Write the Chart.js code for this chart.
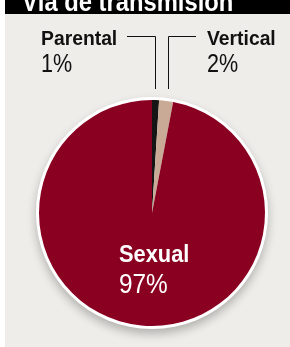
<!DOCTYPE html>
<html>
<head>
<meta charset="utf-8">
<script src="https://cdn.jsdelivr.net/npm/chart.js@4"></script>
<style>
  html, body { margin: 0; padding: 0; background: #fff; }
  #wrap { position: relative; width: 290px; height: 347px; overflow: hidden; }
  #title {
    position: absolute; left: 5px; top: 0; width: 285px; height: 14px;
    background: #000; color: #fff; overflow: hidden;
  }
  #panel { position: absolute; left: 5px; top: 14px; width: 285px; height: 333px; background: #eeede9; }
  #chart { position: absolute; left: 0; top: 0; }
  #titleCanvas { position: absolute; left: 0; top: 0; }
</style>
</head>
<body>
<div id="wrap">
  <div id="title"></div>
  <div id="panel"></div>
  <canvas id="chart" width="290" height="347"></canvas>
</div>
<script>
// Data
const title = 'Vía de transmisión';
const labels = ['Parental', 'Vertical', 'Sexual'];
const values = [1, 2, 97];
const colors = ['#151515', '#c9aa96', '#8a0021'];

const FONT = "'Liberation Sans', Arial, sans-serif";

// draw text squeezed horizontally, to mimic a condensed face
function squeezed(ctx, text, x, y, font, sx) {
    ctx.save();
    ctx.font = font;
    ctx.translate(x, y);
    ctx.scale(sx, 1);
    ctx.fillText(text, 0, 0);
    ctx.restore();
}

// title bar (text is cut at the top, as in the clip)
const titlePlugin = {
    id: 'titleBar',
    afterDraw(chart) {
        const ctx = chart.ctx;
        ctx.save();
        ctx.beginPath();
        ctx.rect(5, 0, 285, 14);
        ctx.clip();
        ctx.fillStyle = '#fff';
        squeezed(ctx, title, 22, 11, 'bold 27px ' + FONT, 0.88);
        ctx.restore();
    }
};

// white rim + soft shadow behind the pie
const rimPlugin = {
    id: 'rim',
    beforeDatasetsDraw(chart) {
        const arc = chart.getDatasetMeta(0).data[0];
        const ctx = chart.ctx;
        ctx.save();
        ctx.shadowColor = 'rgba(0,0,0,0.25)';
        ctx.shadowBlur = 10;
        ctx.shadowOffsetY = 5;
        ctx.beginPath();
        ctx.arc(arc.x, arc.y, arc.outerRadius + 3, 0, Math.PI * 2);
        ctx.fillStyle = '#fff';
        ctx.fill();
        ctx.restore();
    }
};

// labels and leader lines
const labelPlugin = {
    id: 'pieLabels',
    afterDatasetsDraw(chart) {
        const ctx = chart.ctx;
        const arcs = chart.getDatasetMeta(0).data;
        ctx.save();

        const lineY = 36;
        const top = arcs[0].y - arcs[0].outerRadius - 11;
        ctx.strokeStyle = '#111';
        ctx.lineWidth = 1;
        ctx.beginPath();
        ctx.moveTo(127, lineY + 0.5);
        ctx.lineTo(155.5, lineY + 0.5);
        ctx.lineTo(155.5, top);
        ctx.moveTo(168.5, top);
        ctx.lineTo(168.5, lineY + 0.5);
        ctx.lineTo(196, lineY + 0.5);
        ctx.stroke();

        ctx.fillStyle = '#111';
        ctx.textBaseline = 'alphabetic';
        ctx.textAlign = 'left';
        squeezed(ctx, labels[0], 41, 45, 'bold 21px ' + FONT, 0.92);
        squeezed(ctx, labels[1], 207, 45, 'bold 21px ' + FONT, 0.92);
        squeezed(ctx, values[0] + '%', 41, 72, '26px ' + FONT, 0.83);
        squeezed(ctx, values[1] + '%', 207, 72, '26px ' + FONT, 0.83);

        // Sexual, inside the slice
        ctx.fillStyle = '#fff';
        squeezed(ctx, labels[2], 119, 262, 'bold 24px ' + FONT, 0.91);
        squeezed(ctx, values[2] + '%', 119, 293, '28px ' + FONT, 0.87);
        ctx.restore();
    }
};

new Chart(document.getElementById('chart'), {
    type: 'pie',
    data: {
        labels: labels,
        datasets: [{
            data: values,
            backgroundColor: colors,
            borderWidth: 0
        }]
    },
    options: {
        responsive: false,
        animation: false,
        layout: { padding: { left: 39, right: 25, top: 100, bottom: 21 } },
        plugins: {
            legend: { display: false },
            tooltip: { enabled: false }
        }
    },
    plugins: [rimPlugin, labelPlugin, titlePlugin]
});
</script>
</body>
</html>
